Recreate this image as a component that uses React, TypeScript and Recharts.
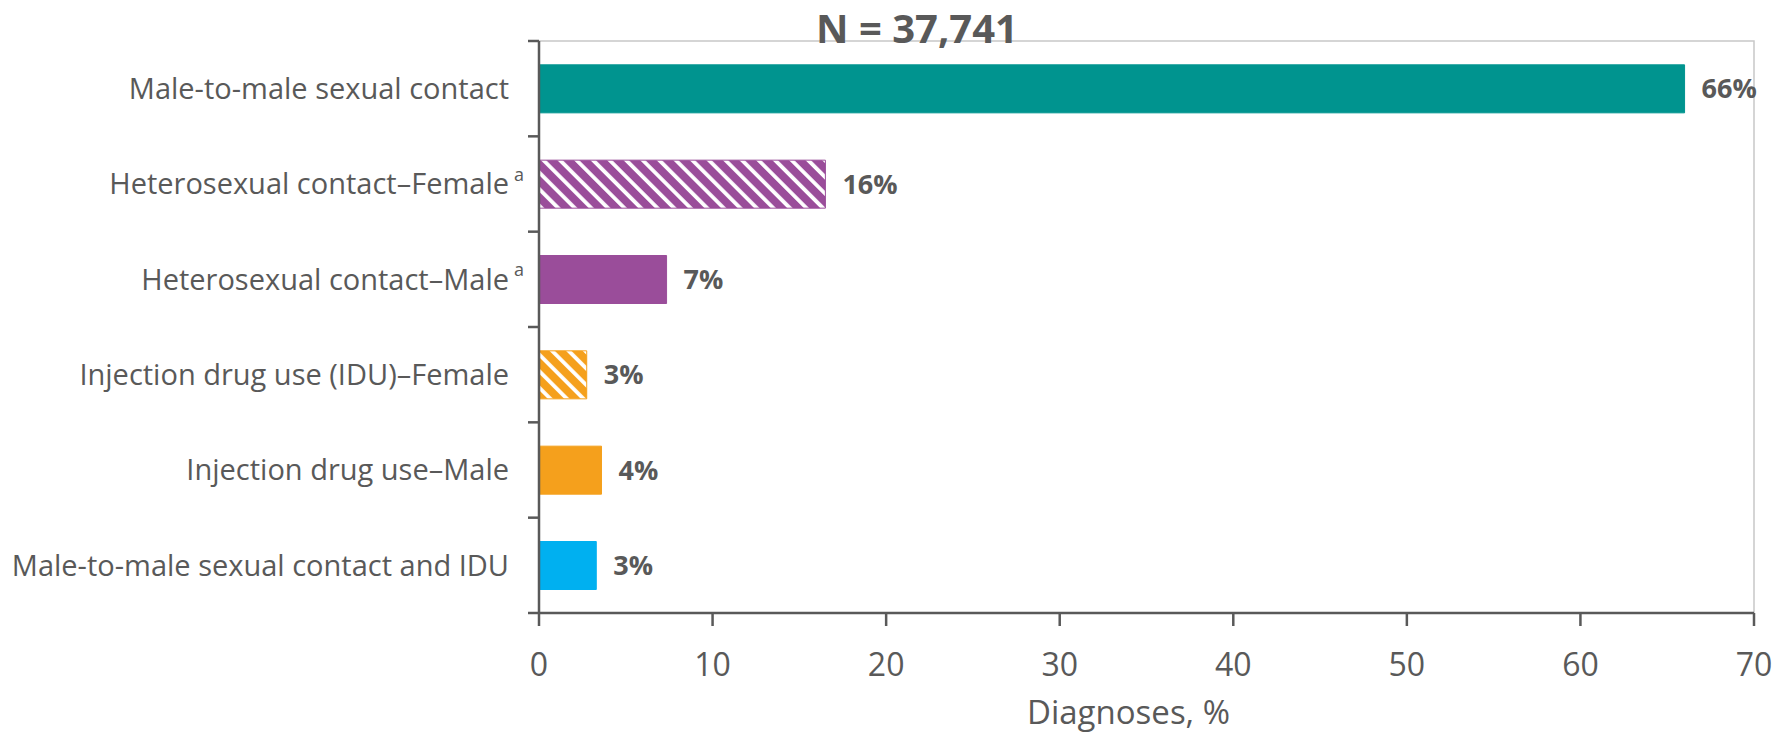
import * as React from 'react';
import { BarChart, Bar, XAxis, YAxis, Cell, LabelList } from 'recharts';

// values; labels are the printed percentages
const CATEGORIES = [
  'Male-to-male sexual contact',
  'Heterosexual contact–Female',
  'Heterosexual contact–Male',
  'Injection drug use (IDU)–Female',
  'Injection drug use–Male',
  'Male-to-male sexual contact and IDU',
];
const FOOTNOTES = ['', 'a', 'a', '', '', ''];
const VALUES = [66.0, 16.5, 7.35, 2.75, 3.6, 3.3];
const VALUE_LABELS = ['66%', '16%', '7%', '3%', '4%', '3%'];
const X_TICKS = [0, 10, 20, 30, 40, 50, 60, 70];
const TITLE = 'N = 37,741';
const X_TITLE = 'Diagnoses, %';

const BAR_FILLS = [
  '#00948F',
  'url(#hatchPurple)',
  '#9A4D9A',
  'url(#hatchOrange)',
  '#F5A01C',
  '#00B0F0',
];
const BAR_STROKES = ['#00948F', '#9A4D9A', '#9A4D9A', '#F5A01C', '#F5A01C', '#00B0F0'];

const W = 1789;
const H = 735;
const PLOT_TOP = 41;
const PLOT_LEFT = 539;
const PLOT_RIGHT = 1754;
const PLOT_BOTTOM = 613;
const BAND = (PLOT_BOTTOM - PLOT_TOP) / CATEGORIES.length;
const TEXT = '#595959';
const AXIS = '#595959';
const FONT = '"Open Sans", sans-serif';
const LABEL_GAP = 30;

const data = CATEGORIES.map((name, i) => ({
  name,
  value: VALUES[i],
  label: VALUE_LABELS[i],
}));

const CategoryTick = (props: any) => {
  const { x, y, payload } = props;
  const i = CATEGORIES.indexOf(payload.value);
  const axisX = x + LABEL_GAP;
  const note = FOOTNOTES[i];
  return (
    <g>
      <line x1={axisX - 11} x2={axisX} y1={y - BAND / 2} y2={y - BAND / 2} stroke={AXIS} strokeWidth={2.5} />
      {i === CATEGORIES.length - 1 && (
        <line x1={axisX - 11} x2={axisX} y1={y + BAND / 2} y2={y + BAND / 2} stroke={AXIS} strokeWidth={2.5} />
      )}
      <text x={x} y={y} dy="0.36em" textAnchor="end" fill={TEXT} fontSize={29} fontFamily={FONT}>
        {payload.value}
      </text>
      {note && (
        <text x={x + 5} y={y - 3} fill={TEXT} fontSize={18} fontFamily={FONT}>
          {note}
        </text>
      )}
    </g>
  );
};

const Hatch = ({ id, color }: { id: string; color: string }) => (
  <pattern id={id} patternUnits="userSpaceOnUse" width={11.7} height={11.7} patternTransform="rotate(-45)">
    <rect x={0} y={0} width={11.7} height={11.7} fill={color} />
    <rect x={0} y={0} width={3.8} height={11.7} fill="#ffffff" />
  </pattern>
);

export default function App() {
  return (
    <div style={{ position: 'absolute', left: 0, top: 0, width: W, height: H, background: '#fff' }}>
      <svg width={W} height={H} style={{ position: 'absolute', left: 0, top: 0 }}>
        <polyline
          points={`${PLOT_LEFT},${PLOT_TOP} ${PLOT_RIGHT},${PLOT_TOP} ${PLOT_RIGHT},${PLOT_BOTTOM}`}
          fill="none"
          stroke="#C8C8C8"
          strokeWidth={1.5}
        />
        <text x={917} y={43} textAnchor="middle" fill={TEXT} fontSize={40} fontWeight="bold" fontFamily={FONT}>
          {TITLE}
        </text>
      </svg>
      <div style={{ position: 'absolute', left: 0, top: 0 }}>
        <BarChart
          width={W}
          height={H}
          data={data}
          layout="vertical"
          margin={{ top: PLOT_TOP, right: W - PLOT_RIGHT, left: 0, bottom: 0 }}
          barCategoryGap="25%"
        >
          <defs>
            <Hatch id="hatchPurple" color="#9A4D9A" />
            <Hatch id="hatchOrange" color="#F5A01C" />
          </defs>
          <XAxis
            type="number"
            domain={[0, 70]}
            ticks={X_TICKS}
            interval={0}
            height={H - PLOT_BOTTOM}
            axisLine={{ stroke: AXIS, strokeWidth: 2.5 }}
            tickLine={{ stroke: AXIS, strokeWidth: 2.5 }}
            tickSize={13}
            tickMargin={27}
            tick={{ fill: TEXT, fontSize: 32, fontFamily: FONT }}
            label={{
              value: X_TITLE,
              position: 'insideBottom',
              offset: 11,
              dx: -18,
              fill: TEXT,
              fontSize: 33,
              fontFamily: FONT,
            }}
          />
          <YAxis
            type="category"
            dataKey="name"
            width={PLOT_LEFT}
            axisLine={{ stroke: AXIS, strokeWidth: 2.5 }}
            tickLine={false}
            tickSize={0}
            tickMargin={LABEL_GAP}
            interval={0}
            tick={<CategoryTick />}
          />
          <Bar dataKey="value" isAnimationActive={false}>
            {data.map((d, i) => (
              <Cell key={d.name} fill={BAR_FILLS[i]} stroke={BAR_STROKES[i]} strokeWidth={1} />
            ))}
            <LabelList
              dataKey="label"
              position="right"
              offset={17}
              fill={TEXT}
              fontSize={27}
              fontWeight="bold"
              fontFamily={FONT}
            />
          </Bar>
        </BarChart>
      </div>
    </div>
  );
}
